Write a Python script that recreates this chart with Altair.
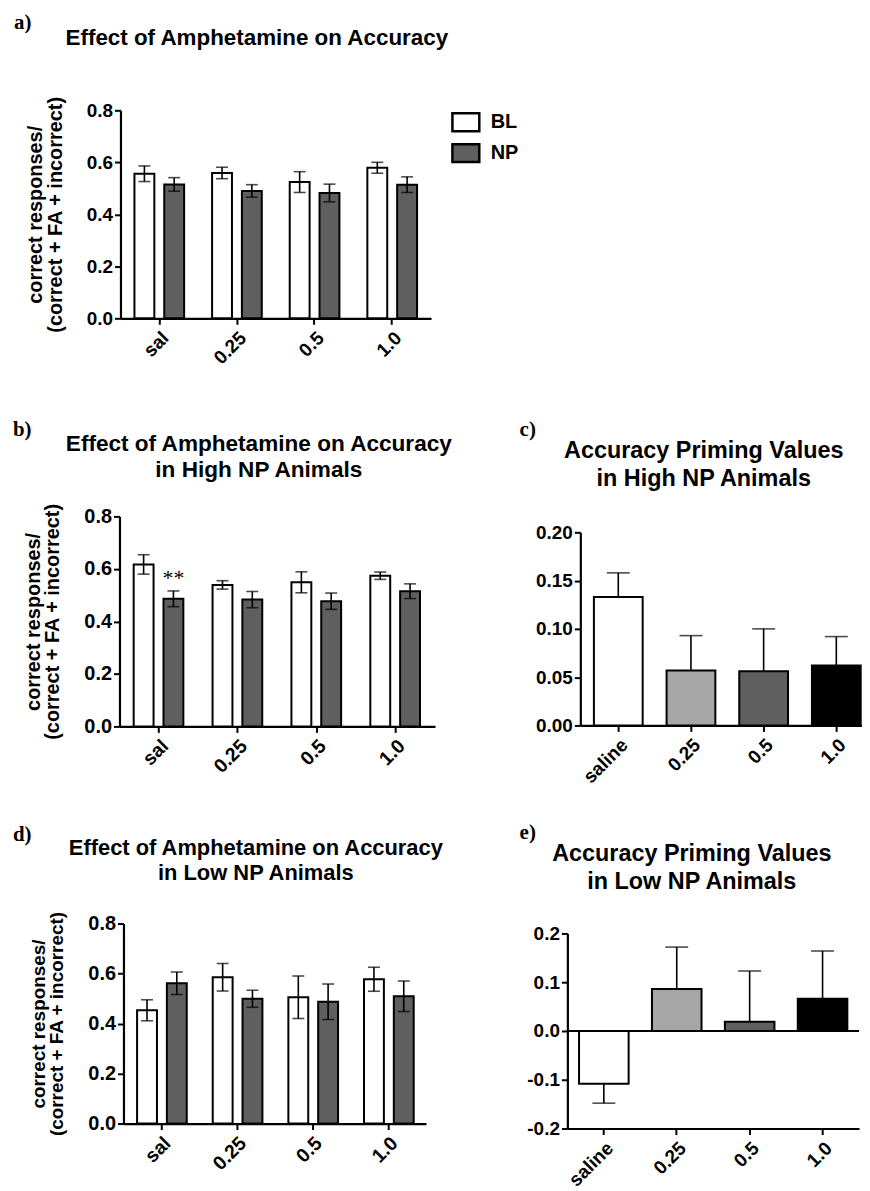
import altair as alt
import pandas as pd

# ---------------- data ----------------
doses = ["sal", "0.25", "0.5", "1.0"]
doses_long = ["saline", "0.25", "0.5", "1.0"]
groups = ["BL", "NP"]

a_bl = [0.556, 0.559, 0.524, 0.579]
a_bl_sem = [0.030, 0.022, 0.040, 0.021]
a_np = [0.515, 0.490, 0.482, 0.514]
a_np_sem = [0.026, 0.024, 0.034, 0.030]

b_bl = [0.617, 0.539, 0.549, 0.574]
b_bl_sem = [0.037, 0.016, 0.040, 0.014]
b_np = [0.486, 0.483, 0.477, 0.515]
b_np_sem = [0.030, 0.031, 0.031, 0.028]

c_val = [0.133, 0.057, 0.056, 0.062]
c_sem = [0.025, 0.036, 0.044, 0.030]

d_bl = [0.453, 0.585, 0.505, 0.577]
d_bl_sem = [0.042, 0.055, 0.085, 0.048]
d_np = [0.561, 0.499, 0.487, 0.509]
d_np_sem = [0.045, 0.034, 0.071, 0.061]

e_val = [-0.108, 0.086, 0.019, 0.066]
e_sem = [0.040, 0.086, 0.104, 0.098]

sig_dose, sig_group, sig_label, sig_y = "sal", "NP", "**", 0.54

y_title = ["correct responses/", "(correct + FA + incorrect)"]
title_acc = ["Effect of Amphetamine on Accuracy"]
title_high = ["Effect of Amphetamine on Accuracy", "in High NP Animals"]
title_low = ["Effect of Amphetamine on Accuracy", "in Low NP Animals"]
title_prime_high = ["Accuracy Priming Values", "in High NP Animals"]
title_prime_low = ["Accuracy Priming Values", "in Low NP Animals"]

SANS = "Liberation Sans"
SERIF = "Liberation Serif"
NP_GRAY = "#5f5f5f"
DOSE_COLORS = ["#ffffff", "#a6a6a6", "#5f5f5f", "#000000"]

COL0_W, COL1_W = 462, 392
ROW_H = [352, 440, 383]


def text_layer(text, x, y, size, font=SANS, weight="bold", align="center", lh=None):
    kw = dict(text=text, font=font, fontSize=size, fontWeight=weight,
              align=align, baseline="alphabetic", color="black")
    if lh is not None:
        kw["lineHeight"] = lh
    return alt.Chart(pd.DataFrame({"k": [0]})).mark_text(**kw).encode(
        x=alt.value(x), y=alt.value(y))


def axis_common(**kw):
    base = dict(domainColor="black", domainWidth=2.2, tickColor="black", tickWidth=2,
                tickSize=6, labelColor="black", labelFont=SANS, labelFontWeight="bold",
                grid=False, labelPadding=2)
    base.update(kw)
    return alt.Axis(**base)


def grouped_panel(bl, bl_sem, npv, np_sem, W, H, xr, yr, lab, xlab, ytsize,
                  title, tx, ty, tsize, tlh, letter, lx, ly, legend=None, sig=False):
    rows = []
    for i, d in enumerate(doses):
        for g, v, s in (("BL", bl[i], bl_sem[i]), ("NP", npv[i], np_sem[i])):
            rows.append({"dose": d, "group": g, "value": v, "lo": v - s, "hi": v + s})
    df = pd.DataFrame(rows)
    base = alt.Chart(df)
    xaxis = axis_common(labelAngle=-45, labelFontSize=xlab, offset=yr[0] - H,
                        labelPadding=4, tickSize=6)
    yaxis = axis_common(values=[0, 0.2, 0.4, 0.6, 0.8], format=".1f", labelFontSize=lab,
                        offset=-xr[0], title=y_title, titleFont=SANS, titleFontSize=ytsize,
                        titleFontWeight="bold", titleColor="black", titleLineHeight=ytsize,
                        titlePadding=21, titleLimit=1000)
    xs = alt.Scale(range=xr, paddingInner=0.36, paddingOuter=0.18)
    ys = alt.Scale(domain=[0, 0.8], range=yr, nice=False)
    X = alt.X("dose:N", sort=doses, title=None, scale=xs, axis=xaxis)
    XO = alt.XOffset("group:N", sort=groups, scale=alt.Scale(paddingInner=0.333, paddingOuter=0))
    fill_kw = dict(sort=groups, scale=alt.Scale(domain=groups, range=["#ffffff", NP_GRAY]))
    if legend is not None:
        fill_kw["legend"] = legend
    else:
        fill_kw["legend"] = None
    bars = base.mark_bar(stroke="black", strokeWidth=2).encode(
        x=X, xOffset=XO, y=alt.Y("value:Q", scale=ys, axis=yaxis),
        fill=alt.Fill("group:N", **fill_kw))
    rule = base.mark_rule(color="black", strokeWidth=1.6).encode(
        x=X, xOffset=XO, y=alt.Y("lo:Q", scale=ys, axis=yaxis), y2="hi:Q")
    cap_lo = base.mark_tick(color="black", size=12, thickness=1.6).encode(
        x=X, xOffset=XO, y=alt.Y("lo:Q", scale=ys, axis=yaxis))
    cap_hi = base.mark_tick(color="black", size=12, thickness=1.6).encode(
        x=X, xOffset=XO, y=alt.Y("hi:Q", scale=ys, axis=yaxis))
    layers = [bars, rule, cap_lo, cap_hi]
    if sig:
        sdf = pd.DataFrame({"dose": [sig_dose], "group": [sig_group], "y": [sig_y],
                            "t": [sig_label]})
        layers.append(alt.Chart(sdf).mark_text(font=SERIF, fontSize=22, fontWeight="normal",
                                               baseline="alphabetic", color="black").encode(
            x=X, xOffset=XO, y=alt.Y("y:Q", scale=ys, axis=yaxis), text="t:N"))
    layers.append(text_layer(title, tx, ty, tsize, lh=tlh))
    layers.append(text_layer(letter, lx, ly, 21, font=SERIF, align="left"))
    return alt.layer(*layers).properties(width=W, height=H)


def single_panel(vals, sems, W, H, xr, yr, domain, ticks, fmt, lab, xlab,
                 title, tx, ty, tsize, tlh, letter, lx, ly,
                 pin, pout, align, zero_line=False):
    rows = []
    for i, d in enumerate(doses_long):
        v, s = vals[i], sems[i]
        end = v + s if v >= 0 else v - s
        rows.append({"dose": d, "value": v, "end": end})
    df = pd.DataFrame(rows)
    base = alt.Chart(df)
    xaxis = axis_common(labelAngle=-45, labelFontSize=xlab, offset=yr[0] - H,
                        labelPadding=4, tickSize=6)
    yaxis = axis_common(values=ticks, format=fmt, labelFontSize=lab, offset=-xr[0],
                        title=None, labelExpr="replace(datum.label, '\u2212', '-')")
    xs = alt.Scale(range=xr, paddingInner=pin, paddingOuter=pout, align=align)
    ys = alt.Scale(domain=domain, range=yr, nice=False, zero=False)
    X = alt.X("dose:N", sort=doses_long, title=None, scale=xs, axis=xaxis)
    bars = base.mark_bar(stroke="black", strokeWidth=2).encode(
        x=X, y=alt.Y("value:Q", scale=ys, axis=yaxis),
        y2=alt.datum(0),
        fill=alt.Fill("dose:N", sort=doses_long,
                      scale=alt.Scale(domain=doses_long, range=DOSE_COLORS), legend=None))
    rule = base.mark_rule(color="black", strokeWidth=1.6).encode(
        x=X, y=alt.Y("value:Q", scale=ys, axis=yaxis), y2="end:Q")
    cap = base.mark_tick(color="black", size=23, thickness=1.6).encode(
        x=X, y=alt.Y("end:Q", scale=ys, axis=yaxis))
    layers = [bars, rule, cap]
    if zero_line:
        layers.append(alt.Chart(pd.DataFrame({"z": [0]})).mark_rule(
            color="black", strokeWidth=2.2).encode(
            y=alt.Y("z:Q", scale=ys, axis=yaxis), x=alt.value(xr[0]), x2=alt.value(xr[1])))
    layers.append(text_layer(title, tx, ty, tsize, lh=tlh))
    layers.append(text_layer(letter, lx, ly, 21, font=SERIF, align="left"))
    return alt.layer(*layers).properties(width=W, height=H)


legend_a = alt.Legend(title=None, orient="none", legendX=445, legendY=97,
                      symbolType="M-1,-0.667H1V0.667H-1Z", symbolSize=729,
                      symbolStrokeColor="black", symbolStrokeWidth=2.5,
                      labelFont=SANS, labelFontSize=20, labelFontWeight="bold",
                      labelColor="black", labelOffset=10, rowPadding=1, padding=0)

panel_a = grouped_panel(a_bl, a_bl_sem, a_np, a_np_sem, COL0_W, ROW_H[0],
                        [113, 425], [309, 100], 19, 19, 20,
                        title_acc, 250, 34, 22.5, 26, "a)", 6, 18, legend=legend_a)

spacer = alt.Chart(pd.DataFrame({"k": []})).mark_point().encode(
    x=alt.value(0), y=alt.value(0)).properties(width=COL1_W, height=ROW_H[0])

panel_b = grouped_panel(b_bl, b_bl_sem, b_np, b_np_sem, COL0_W, ROW_H[1],
                        [112, 429], [367, 156], 20, 19.5, 20,
                        title_high, 252, 90, 22.7, 26, "b)", 5, 75, sig=True)

panel_c = single_panel(c_val, c_sem, COL1_W, ROW_H[1], [113, 399], [366, 172],
                       [0, 0.2], [0, 0.05, 0.10, 0.15, 0.20], ".2f", 19, 19,
                       title_prime_high, 237, 97, 23.5, 28, "c)", 52, 75,
                       0.329, 0.123, 0.76)

panel_d = grouped_panel(d_bl, d_bl_sem, d_np, d_np_sem, COL0_W, ROW_H[2],
                        [116, 420], [326, 125], 20, 19.5, 19,
                        title_low, 249, 56, 22, 25, "d)", 5, 42)

panel_e = single_panel(e_val, e_sem, COL1_W, ROW_H[2], [100, 393], [331, 135],
                       [-0.2, 0.2], [-0.2, -0.1, 0, 0.1, 0.2], ".1f", 19, 19,
                       title_prime_low, 225, 62, 23.5, 28, "e)", 52, 40,
                       0.32, 0.16, 0.5, zero_line=True)

chart = alt.concat(panel_a, spacer, panel_b, panel_c, panel_d, panel_e,
                   columns=2, spacing=0, bounds="flush").resolve_scale(
    fill="independent", x="independent", y="independent").properties(
    padding=0, background="white").configure_view(stroke=None)

chart.save("out.html", embed_options={"renderer": "svg", "actions": False})
